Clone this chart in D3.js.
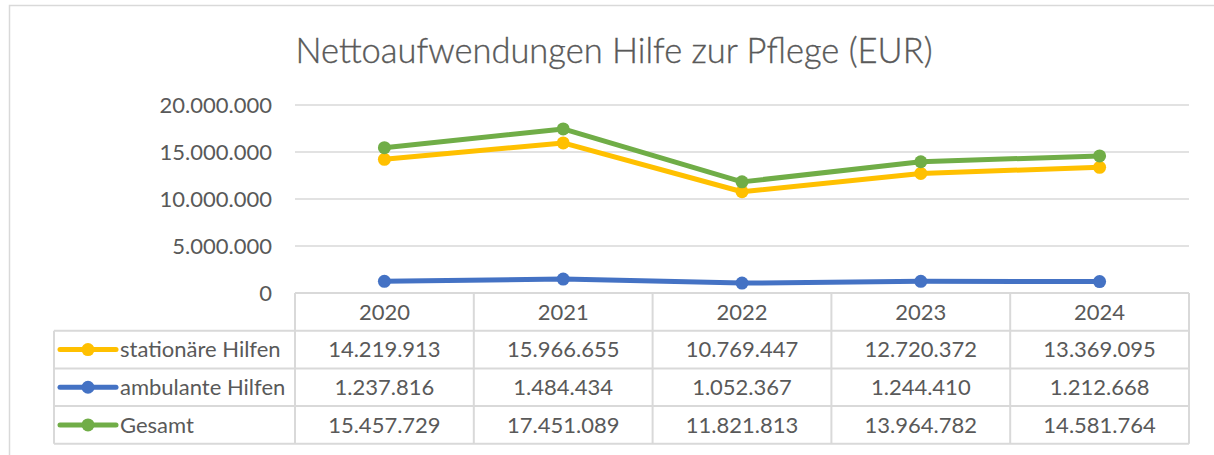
<!DOCTYPE html>
<meta charset="utf-8">
<script src="https://d3js.org/d3.v7.min.js"></script>
<style>
  body { margin: 0; background: #fff; }
  svg text { font-family: Lato, "Open Sans", sans-serif; fill: #595959; }
</style>
<body>
<div id="chart"></div>
<script>
  // data
  var years = ["2020", "2021", "2022", "2023", "2024"]
  var seriesNames = ["stationäre Hilfen", "ambulante Hilfen", "Gesamt"]
  var stationaer = [14219913, 15966655, 10769447, 12720372, 13369095]
  var ambulant = [1237816, 1484434, 1052367, 1244410, 1212668]
  var gesamt = [15457729, 17451089, 11821813, 13964782, 14581764]
  var yTicks = [0, 5000000, 10000000, 15000000, 20000000]
  var colors = ["#FFC000", "#4472C4", "#70AD47"]

  var series = [stationaer, ambulant, gesamt]

  var W = 1214, H = 455
  var plot = {left: 295, right: 1189, top: 105, bottom: 293}
  var rowH = 37.7
  var legendLeft = 54

  var fmt = function(v) {
    return String(v).replace(/\B(?=(\d{3})+(?!\d))/g, ".")
  }

  var svg = d3.select("#chart").append("svg")
    .attr("width", W)
    .attr("height", H)

  // outer chart border
  svg.append("rect")
    .attr("x", 9.5).attr("y", 5.5)
    .attr("width", W + 20).attr("height", H + 20)
    .attr("fill", "none")
    .attr("stroke", "#D9D9D9")
    .attr("stroke-width", 1.5)

  svg.append("text")
    .attr("x", 614).attr("y", 63)
    .attr("text-anchor", "middle")
    .style("font-size", "34.5px")
    .style("font-weight", 300)
    .style("stroke", "#595959")
    .style("stroke-width", 0.35)
    .text("Nettoaufwendungen Hilfe zur Pflege (EUR)")

  var x = d3.scaleBand()
    .domain(years)
    .range([plot.left, plot.right])

  var y = d3.scaleLinear()
    .domain([0, 20000000])
    .range([plot.bottom, plot.top])

  // gridlines
  svg.append("g")
    .selectAll("line")
    .data(yTicks)
    .enter()
    .append("line")
      .attr("x1", plot.left).attr("x2", plot.right)
      .attr("y1", function(d) { return y(d) }).attr("y2", function(d) { return y(d) })
      .attr("stroke", "#D9D9D9")
      .attr("stroke-width", 1.5)

  // y tick labels
  svg.append("g")
    .selectAll("text")
    .data(yTicks)
    .enter()
    .append("text")
      .attr("x", 272)
      .attr("y", function(d) { return y(d) })
      .attr("dy", "0.35em")
      .attr("text-anchor", "end")
      .style("font-size", "22px")
      .text(function(d) { return fmt(d) })

  // lines + markers
  var line = d3.line()
    .x(function(d, i) { return x(years[i]) + x.bandwidth() / 2 })
    .y(function(d) { return y(d) })

  series.forEach(function(s, k) {
    svg.append("path")
      .datum(s)
      .attr("d", line)
      .attr("fill", "none")
      .attr("stroke", colors[k])
      .attr("stroke-width", 5)
      .attr("stroke-linejoin", "round")
    svg.append("g")
      .selectAll("circle")
      .data(s)
      .enter()
      .append("circle")
        .attr("cx", function(d, i) { return x(years[i]) + x.bandwidth() / 2 })
        .attr("cy", function(d) { return y(d) })
        .attr("r", 6.5)
        .attr("fill", colors[k])
  })

  // data table
  var table = svg.append("g")
  var gridStroke = "#D9D9D9"
  var tableBottom = plot.bottom + rowH * 4

  // horizontal lines
  table.append("line")
    .attr("x1", plot.left).attr("x2", plot.right)
    .attr("y1", plot.bottom).attr("y2", plot.bottom)
    .attr("stroke", gridStroke).attr("stroke-width", 2)
  for (var r = 1; r <= 4; r++) {
    table.append("line")
      .attr("x1", legendLeft).attr("x2", plot.right)
      .attr("y1", plot.bottom + rowH * r).attr("y2", plot.bottom + rowH * r)
      .attr("stroke", gridStroke).attr("stroke-width", 2)
  }
  // vertical lines
  table.append("line")
    .attr("x1", legendLeft).attr("x2", legendLeft)
    .attr("y1", plot.bottom + rowH).attr("y2", tableBottom)
    .attr("stroke", gridStroke).attr("stroke-width", 2)
  years.forEach(function(yr) {
    table.append("line")
      .attr("x1", x(yr)).attr("x2", x(yr))
      .attr("y1", plot.bottom).attr("y2", tableBottom)
      .attr("stroke", gridStroke).attr("stroke-width", 2)
  })
  table.append("line")
    .attr("x1", plot.right).attr("x2", plot.right)
    .attr("y1", plot.bottom).attr("y2", tableBottom)
    .attr("stroke", gridStroke).attr("stroke-width", 2)

  // header row
  table.selectAll(".yr")
    .data(years)
    .enter()
    .append("text")
      .attr("x", function(d) { return x(d) + x.bandwidth() / 2 })
      .attr("y", plot.bottom + rowH / 2)
      .attr("dy", "0.35em")
      .attr("text-anchor", "middle")
      .style("font-size", "22px")
      .text(function(d) { return d })

  // value rows with legend keys
  series.forEach(function(s, k) {
    var cy = plot.bottom + rowH * (k + 1) + rowH / 2
    table.append("line")
      .attr("x1", 60).attr("x2", 116)
      .attr("y1", cy).attr("y2", cy)
      .attr("stroke", colors[k]).attr("stroke-width", 5)
      .attr("stroke-linecap", "round")
    table.append("circle")
      .attr("cx", 88).attr("cy", cy).attr("r", 6.5)
      .attr("fill", colors[k])
    table.append("text")
      .attr("x", 120).attr("y", cy)
      .attr("dy", "0.35em")
      .style("font-size", "22px")
      .text(seriesNames[k])
    table.append("g")
      .selectAll("text")
      .data(s)
      .enter()
      .append("text")
        .attr("x", function(d, i) { return x(years[i]) + x.bandwidth() / 2 })
        .attr("y", cy)
        .attr("dy", "0.35em")
        .attr("text-anchor", "middle")
        .style("font-size", "22px")
        .text(function(d) { return fmt(d) })
  })
</script>
</body>
